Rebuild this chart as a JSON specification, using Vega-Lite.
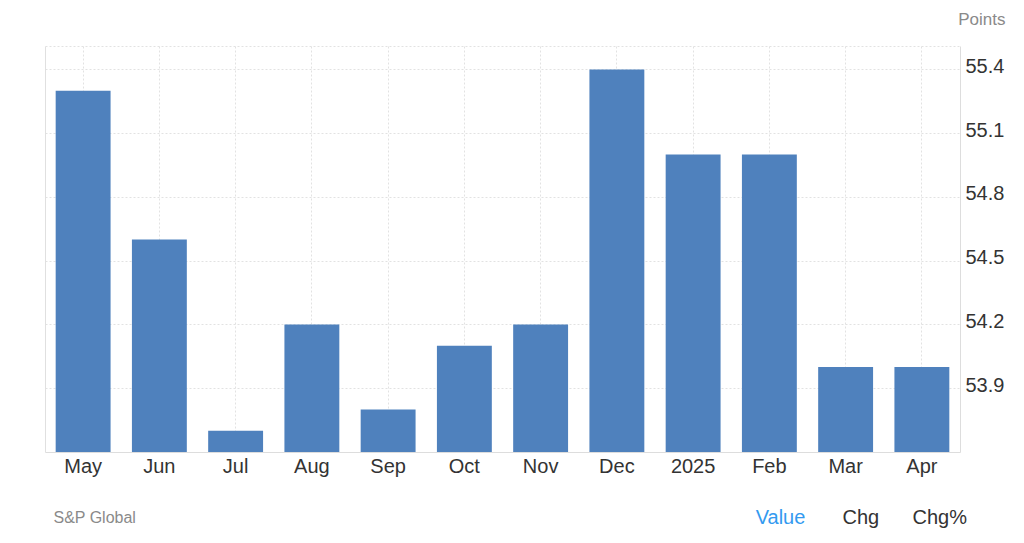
{
  "$schema": "https://vega.github.io/schema/vega-lite/v6.json",
  "width": 915,
  "height": 406,
  "autosize": {"type": "none"},
  "padding": {"left": 45, "top": 46, "right": 64, "bottom": 91},
  "background": "white",
  "config": {
    "view": {"stroke": null},
    "font": "Liberation Sans",
    "axis": {"labelFont": "Liberation Sans", "titleFont": "Liberation Sans"}
  },
  "data": {
    "values": [
      {"month": "May", "value": 55.3},
      {"month": "Jun", "value": 54.6},
      {"month": "Jul", "value": 53.7},
      {"month": "Aug", "value": 54.2},
      {"month": "Sep", "value": 53.8},
      {"month": "Oct", "value": 54.1},
      {"month": "Nov", "value": 54.2},
      {"month": "Dec", "value": 55.4},
      {"month": "2025", "value": 55.0},
      {"month": "Feb", "value": 55.0},
      {"month": "Mar", "value": 54.0},
      {"month": "Apr", "value": 54.0}
    ]
  },
  "layer": [
    {
      "mark": {"type": "bar", "opacity": 0},
      "encoding": {
        "x": {
          "field": "month", "type": "nominal", "sort": null,
          "scale": {"paddingInner": 0.28, "paddingOuter": 0.14},
          "axis": {
            "orient": "top", "labels": false, "ticks": false, "domain": false, "grid": false,
            "title": "S&P Global", "titleFontSize": 16, "titleColor": "#8a8a8a", "titleFontWeight": "normal",
            "titleAngle": 0, "titleAlign": "left", "titleBaseline": "alphabetic", "titleX": 8, "titleY": 476
          }
        },
        "y": {
          "field": "value", "type": "quantitative",
          "scale": {"domain": [53.6, 55.51], "zero": false, "nice": false},
          "axis": {
            "orient": "left", "values": [53.9, 54.2, 54.5, 54.8, 55.1, 55.4, 55.51],
            "labels": false, "ticks": false, "domain": true, "domainColor": "#e0e0e0",
            "grid": true, "gridColor": "#e2e2e2", "gridDash": [2, 2],
            "title": "Chg\u00a0\u00a0\u00a0\u00a0\u00a0\u00a0Chg%", "titleFontSize": 20, "titleColor": "#333333", "titleFontWeight": "normal",
            "titleAngle": 0, "titleAlign": "left", "titleBaseline": "alphabetic", "titleX": 797, "titleY": 477
          }
        },
        "y2": {"datum": 53.6}
      }
    },
    {
      "mark": {"type": "bar", "color": "#4f81bd"},
      "encoding": {
        "x": {
          "field": "month", "type": "nominal", "sort": null,
          "scale": {"paddingInner": 0.28, "paddingOuter": 0.14},
          "axis": {
            "orient": "bottom", "labelAngle": 0, "labelFontSize": 20, "labelColor": "#333333",
            "labelPadding": 4, "ticks": false, "domain": true, "domainColor": "#dddddd",
            "grid": true, "gridColor": "#e2e2e2", "gridDash": [2, 2], "bandPosition": 0.5,
            "title": "Value", "titleFontSize": 20, "titleColor": "#339af0", "titleFontWeight": "normal",
            "titleAlign": "center", "titleBaseline": "alphabetic", "titleX": 735, "titleY": 71
          }
        },
        "y": {
          "field": "value", "type": "quantitative",
          "scale": {"domain": [53.6, 55.51], "zero": false, "nice": false},
          "axis": {
            "orient": "right", "values": [53.9, 54.2, 54.5, 54.8, 55.1, 55.4], "format": ".1f",
            "labelFontSize": 20, "labelColor": "#333333", "labelPadding": 5, "labelOffset": -3,
            "ticks": false, "domain": true, "domainColor": "#dddddd", "grid": false,
            "title": "Points", "titleFontSize": 17, "titleColor": "#8a8a8a", "titleFontWeight": "normal",
            "titleAngle": 0, "titleAlign": "right", "titleBaseline": "alphabetic", "titleX": 45, "titleY": -22
          }
        },
        "y2": {"datum": 53.6}
      }
    }
  ],
  "resolve": {"axis": {"x": "independent", "y": "independent"}}
}
